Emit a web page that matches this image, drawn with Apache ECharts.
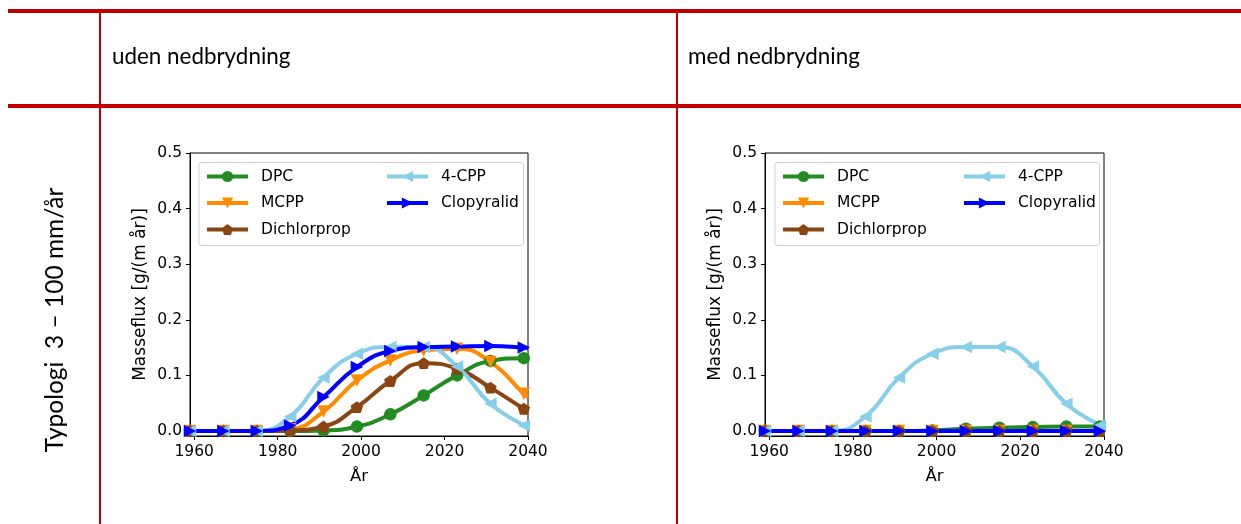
<!DOCTYPE html>
<html>
<head>
<meta charset="utf-8">
<script src="https://cdn.jsdelivr.net/npm/echarts@6/dist/echarts.min.js"></script>
<style>
  html, body { margin: 0; padding: 0; background: #ffffff; }
  #chart { width: 1241px; height: 524px; }
</style>
</head>
<body>
<div id="chart"></div>
<script>
// Years at which the curves are sampled (markers on all but the last)
const years = [1959, 1967, 1975, 1983, 1991, 1999, 2007, 2015, 2023, 2031, 2039, 2040];

// Mass flux, without degradation (uden nedbrydning)
const udenDPC        = [0, 0, 0, 0,     0.001, 0.008, 0.030, 0.064, 0.100, 0.126, 0.131, 0.131];
const udenMCPP       = [0, 0, 0, 0.003, 0.035, 0.091, 0.127, 0.145, 0.148, 0.124, 0.067, 0.061];
const udenDichlor    = [0, 0, 0, 0.001, 0.008, 0.043, 0.090, 0.122, 0.112, 0.078, 0.040, 0.037];
const uden4CPP       = [0, 0, 0, 0.026, 0.096, 0.139, 0.151, 0.151, 0.116, 0.049, 0.010, 0.008];
const udenClopyralid = [0, 0, 0, 0.010, 0.061, 0.115, 0.144, 0.151, 0.152, 0.153, 0.150, 0.149];

// Mass flux, with degradation (med nedbrydning)
const medDPC        = [0, 0, 0, 0, 0, 0.001, 0.004, 0.006, 0.007, 0.008, 0.008, 0.008];
const medMCPP       = [0, 0, 0, 0, 0, 0, 0, 0, 0, 0, 0, 0];
const medDichlor    = [0, 0, 0, 0, 0, 0, 0, 0, 0, 0, 0, 0];
const med4CPP       = [0, 0, 0, 0.026, 0.096, 0.139, 0.151, 0.151, 0.116, 0.049, 0.010, 0.008];
const medClopyralid = [0, 0, 0, 0, 0, 0, 0, 0, 0, 0, 0, 0];

const xTicks = [1960, 1980, 2000, 2020, 2040];
const yTicks = [0, 0.1, 0.2, 0.3, 0.4, 0.5];

const headerLeft = 'uden nedbrydning';
const headerRight = 'med nedbrydning';
const rowLabel = 'Typologi  3 \u2013 100 mm/\u00e5r';
const yName = 'Masseflux [g/(m \u00e5r)]';
const xName = '\u00c5r';

const PENTAGON = 'path://M0,-1L-0.951,-0.309L-0.588,0.809L0.588,0.809L0.951,-0.309Z';
const styles = {
  'DPC':         { color: '#228B22', symbol: 'circle',   rotate: 0 },
  'MCPP':        { color: '#FF8C00', symbol: 'triangle', rotate: 180 },
  'Dichlorprop': { color: '#8B4513', symbol: PENTAGON,   rotate: 0 },
  '4-CPP':       { color: '#87CEEB', symbol: 'triangle', rotate: 90 },
  'Clopyralid':  { color: '#0000FF', symbol: 'triangle', rotate: -90 }
};

const TICK_FONT = 'DejaVu Sans';
const RED = '#C00000';

function pairs(vals) {
  return vals.map((v, i) => {
    const item = { value: [years[i], v] };
    if (i === vals.length - 1) item.symbol = 'none';
    return item;
  });
}

function makeSeries(name, vals, gi) {
  const s = styles[name];
  return {
    type: 'line', name: name,
    xAxisIndex: gi, yAxisIndex: gi,
    data: pairs(vals),
    smooth: 0.5,
    symbol: s.symbol, symbolRotate: s.rotate, symbolSize: 12.5,
    symbolKeepAspect: true,
    showAllSymbol: true,
    lineStyle: { color: s.color, width: 4 },
    itemStyle: { color: s.color, borderWidth: 0 },
    emphasis: { disabled: true },
    clip: true,
    animation: false
  };
}

function xAxis(gi) {
  return {
    type: 'value', gridIndex: gi, min: 1959, max: 2040,
    name: xName, nameLocation: 'middle', nameGap: 32,
    nameTextStyle: { fontFamily: TICK_FONT, fontSize: 16.5, color: '#000' },
    axisLine: { show: true, onZero: false, lineStyle: { color: '#000', width: 1 } },
    axisTick: { show: true, length: 4, inside: false, customValues: xTicks, lineStyle: { color: '#000' } },
    axisLabel: { customValues: xTicks, margin: 8, fontFamily: TICK_FONT, fontSize: 15.5, color: '#000',
                 formatter: v => String(Math.round(v)) },
    splitLine: { show: false }
  };
}

function yAxis(gi) {
  return {
    type: 'value', gridIndex: gi, min: -0.009, max: 0.5,
    name: yName, nameLocation: 'middle', nameGap: 41,
    nameTextStyle: { fontFamily: TICK_FONT, fontSize: 17, color: '#000' },
    axisLine: { show: true, lineStyle: { color: '#000', width: 1 } },
    axisTick: { show: true, length: 4, customValues: yTicks, lineStyle: { color: '#000' } },
    axisLabel: { customValues: yTicks, margin: 8, fontFamily: TICK_FONT, fontSize: 15.5, color: '#000',
                 formatter: v => v.toFixed(1) },
    splitLine: { show: false }
  };
}

function legend(names, left, top) {
  return {
    data: names, orient: 'vertical', left: left, top: top,
    padding: 0, itemWidth: 41, itemHeight: 14, itemGap: 9.5,
    selectedMode: false,
    lineStyle: { width: 4 },
    textStyle: { fontFamily: TICK_FONT, fontSize: 15.5, color: '#000', padding: [0, 0, 0, 8], lineHeight: 17 }
  };
}

const grids = [
  { left: 190, top: 153, width: 338, height: 283 },
  { left: 765, top: 153, width: 339, height: 283 }
];

const chart = echarts.init(document.getElementById('chart'), null, { renderer: 'canvas' });

const option = {
  backgroundColor: '#ffffff',
  animation: false,
  grid: grids.map(g => Object.assign({ show: true, borderColor: '#000', borderWidth: 1, backgroundColor: 'transparent' }, g)),
  xAxis: [xAxis(0), xAxis(1)],
  yAxis: [yAxis(0), yAxis(1)],
  legend: [
    legend(['DPC', 'MCPP', 'Dichlorprop'], 205, 168),
    legend(['4-CPP', 'Clopyralid'], 385, 168),
    legend(['DPC', 'MCPP', 'Dichlorprop'], 781, 168),
    legend(['4-CPP', 'Clopyralid'], 962, 168)
  ],
  graphic: [
    // table rules
    { type: 'rect', shape: { x: 8, y: 9, width: 1233, height: 4 }, style: { fill: RED }, silent: true },
    { type: 'rect', shape: { x: 8, y: 104, width: 1233, height: 4 }, style: { fill: RED }, silent: true },
    { type: 'rect', shape: { x: 99, y: 13, width: 2, height: 511 }, style: { fill: RED }, silent: true },
    { type: 'rect', shape: { x: 676, y: 13, width: 2, height: 511 }, style: { fill: RED }, silent: true },
    // column headers
    { type: 'text', x: 112, y: 57, style: { text: headerLeft, font: '22.4px Lato', fill: '#000', verticalAlign: 'middle' } },
    { type: 'text', x: 688, y: 57, style: { text: headerRight, font: '22.4px Lato', fill: '#000', verticalAlign: 'middle' } },
    // row label
    { type: 'text', x: 55, y: 320, rotation: Math.PI / 2,
      style: { text: rowLabel, font: '24.5px Lato', fill: '#000', align: 'center', verticalAlign: 'middle' } },
    // legend frames
    { type: 'rect', z: -1, shape: { x: 199, y: 162.5, width: 324.5, height: 83, r: 3 },
      style: { fill: 'rgba(255,255,255,0.8)', stroke: '#d0d0d0', lineWidth: 1 } },
    { type: 'rect', z: -1, shape: { x: 775, y: 162.5, width: 324.5, height: 83, r: 3 },
      style: { fill: 'rgba(255,255,255,0.8)', stroke: '#d0d0d0', lineWidth: 1 } }
  ],
  series: [
    makeSeries('DPC', udenDPC, 0),
    makeSeries('MCPP', udenMCPP, 0),
    makeSeries('Dichlorprop', udenDichlor, 0),
    makeSeries('4-CPP', uden4CPP, 0),
    makeSeries('Clopyralid', udenClopyralid, 0),
    makeSeries('DPC', medDPC, 1),
    makeSeries('MCPP', medMCPP, 1),
    makeSeries('Dichlorprop', medDichlor, 1),
    makeSeries('4-CPP', med4CPP, 1),
    makeSeries('Clopyralid', medClopyralid, 1)
  ]
};

chart.setOption(option);
</script>
</body>
</html>
